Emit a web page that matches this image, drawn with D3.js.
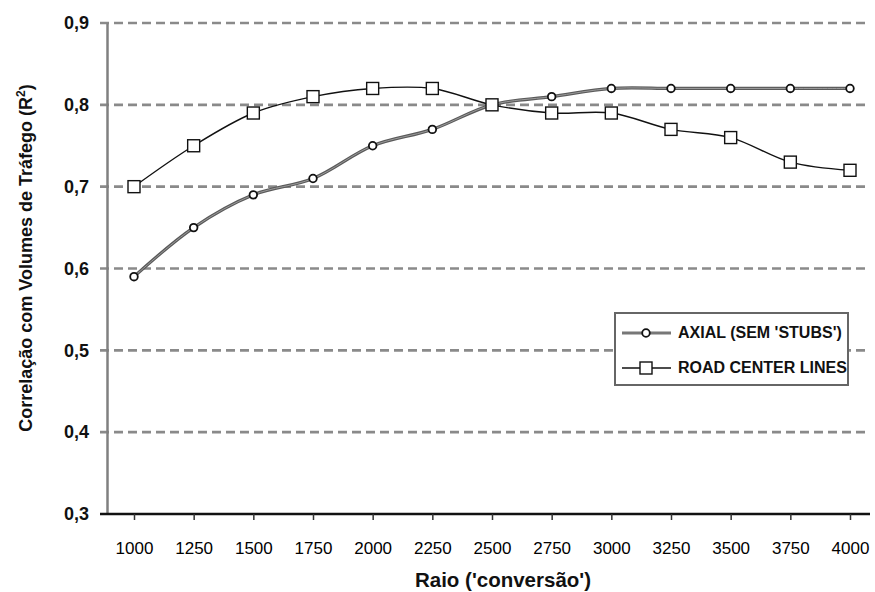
<!DOCTYPE html>
<html>
<head>
<meta charset="utf-8">
<script src="https://cdn.jsdelivr.net/npm/d3@7"></script>
<style>
body{margin:0;background:#fff;}
text{font-family:Arial,"Liberation Sans",sans-serif;}
</style>
</head>
<body>
<div class="canvas"></div>
<script>
const raios = [1000,1250,1500,1750,2000,2250,2500,2750,3000,3250,3500,3750,4000];
const axial = [0.59,0.65,0.69,0.71,0.75,0.77,0.80,0.81,0.82,0.82,0.82,0.82,0.82];
const roadCenter = [0.70,0.75,0.79,0.81,0.82,0.82,0.80,0.79,0.79,0.77,0.76,0.73,0.72];
const yTicks = [0.3,0.4,0.5,0.6,0.7,0.8,0.9];

const svg = d3.select('.canvas')
.append('svg')
    .attr('width', 875)
    .attr('height', 592);

const margin = {top:23, right:5, bottom:78, left:107};
const graphWidth = 875 - margin.left - margin.right;
const graphHeight = 592 - margin.top - margin.bottom;

const graph = svg.append('g')
.attr('transform', `translate(${margin.left},${margin.top})`);

//scales
const x = d3.scaleLinear()
.domain([1000,4000])
.range([27, 743]);
const y = d3.scaleLinear()
.domain([0.3,0.9])
.range([graphHeight,0]);

//gridlines
graph.append('g')
.selectAll('line')
.data(yTicks.filter(d=>d>0.3))
.enter().append('line')
    .attr('x1',-7).attr('x2',graphWidth)
    .attr('y1',d=>y(d)).attr('y2',d=>y(d))
    .attr('stroke','#8a8a8a')
    .attr('stroke-width',2.6)
    .attr('stroke-dasharray','9,5');

//y axis
const yAxis = d3.axisLeft(y)
.tickValues(yTicks)
.tickSize(0)
.tickPadding(18)
.tickFormat(d => d3.format('.1f')(d).replace('.',','));
const yAxisGroup = graph.append('g').call(yAxis);
yAxisGroup.select('.domain').attr('stroke','#808080').attr('stroke-width',2.5);
yAxisGroup.selectAll('text')
.attr('font-size',18).attr('font-weight','bold').attr('fill','#111');

//x axis
const xAxis = d3.axisBottom(x)
.tickValues(raios)
.tickSize(6)
.tickSizeOuter(0)
.tickPadding(22)
.tickFormat(d3.format('d'));
const xAxisGroup = graph.append('g')
.attr('transform',`translate(0,${graphHeight})`)
.call(xAxis);
xAxisGroup.select('.domain')
.attr('d',`M-7,0H${graphWidth}`)
.attr('stroke','#111').attr('stroke-width',2.5);
xAxisGroup.selectAll('.tick line').attr('stroke','#333').attr('stroke-width',1.5);
xAxisGroup.selectAll('text')
.attr('font-size',17).attr('fill','#000');

//lines
const line = d3.line()
.x((d,i)=>x(raios[i]))
.y(d=>y(d))
.curve(d3.curveCatmullRom);

graph.append('path')
.datum(axial)
.attr('fill','none')
.attr('stroke','#5a5a5a')
.attr('stroke-width',3.2)
.attr('d',line);
graph.append('path')
.datum(axial)
.attr('fill','none')
.attr('stroke','#9a9a9a')
.attr('stroke-width',1)
.attr('d',line);

graph.append('path')
.datum(roadCenter)
.attr('fill','none')
.attr('stroke','#111')
.attr('stroke-width',1.4)
.attr('d',line);

//markers
graph.selectAll('.axial')
.data(axial)
.enter().append('circle')
    .attr('class','axial')
    .attr('cx',(d,i)=>x(raios[i]))
    .attr('cy',d=>y(d))
    .attr('r',3.8)
    .attr('fill','#fff')
    .attr('stroke','#111')
    .attr('stroke-width',1.8);

graph.selectAll('.road')
.data(roadCenter)
.enter().append('rect')
    .attr('class','road')
    .attr('x',(d,i)=>x(raios[i])-6)
    .attr('y',d=>y(d)-6)
    .attr('width',12).attr('height',12)
    .attr('fill','#fff')
    .attr('stroke','#111')
    .attr('stroke-width',1.4);

//legend
const legend = svg.append('g').attr('transform','translate(615,313)');
legend.append('rect')
.attr('width',233).attr('height',72)
.attr('fill','#fff').attr('stroke','#666').attr('stroke-width',2);
legend.append('line').attr('x1',7).attr('x2',56).attr('y1',20).attr('y2',20)
.attr('stroke','#777').attr('stroke-width',3.2);
legend.append('circle').attr('cx',31).attr('cy',20).attr('r',3.8)
.attr('fill','#fff').attr('stroke','#111').attr('stroke-width',1.8);
legend.append('line').attr('x1',7).attr('x2',56).attr('y1',55).attr('y2',55)
.attr('stroke','#111').attr('stroke-width',1.4);
legend.append('rect').attr('x',25).attr('y',49).attr('width',12).attr('height',12)
.attr('fill','#fff').attr('stroke','#111').attr('stroke-width',1.4);
legend.append('text').attr('x',63).attr('y',25).text("AXIAL (SEM 'STUBS')")
.attr('font-size',16).attr('font-weight','bold').attr('fill','#111');
legend.append('text').attr('x',63).attr('y',60).text('ROAD CENTER LINES')
.attr('font-size',16).attr('font-weight','bold').attr('fill','#111');

//axis titles
svg.append('text')
.attr('x',503).attr('y',587)
.attr('text-anchor','middle')
.attr('font-size',20.5).attr('font-weight','bold').attr('fill','#111')
.text("Raio ('conversão')");

const yTitle = svg.append('text')
.attr('transform','translate(32,258) rotate(-90)')
.attr('text-anchor','middle')
.attr('font-size',18).attr('font-weight','bold').attr('fill','#111');
yTitle.append('tspan').text('Correlação com Volumes de Tráfego (R');
yTitle.append('tspan').attr('dy',-7).attr('font-size',12).text('2');
yTitle.append('tspan').attr('dy',7).text(')');
</script>
</body>
</html>
